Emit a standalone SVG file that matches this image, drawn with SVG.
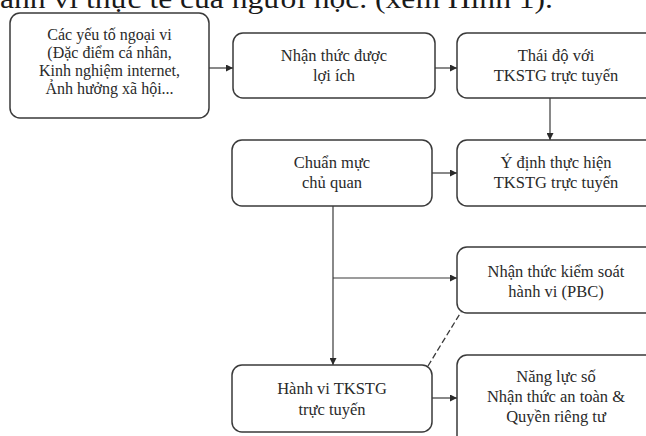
<svg xmlns="http://www.w3.org/2000/svg" width="646" height="436" viewBox="0 0 646 436">
<style>
.box{fill:#fff;stroke:#3a3a3a;stroke-width:1.5}
.t{font-family:"Liberation Serif","Times New Roman",serif;font-size:16.5px;fill:#2a2a2a;text-anchor:middle}
.t1{font-size:16px}
.c{fill:none;stroke:#3a3a3a;stroke-width:1.2}
.d{fill:none;stroke:#3a3a3a;stroke-width:1.3;stroke-dasharray:6 3}
</style>
<defs>
<marker id="ah" viewBox="0 0 10 10" refX="10" refY="5" markerWidth="7" markerHeight="7" markerUnits="userSpaceOnUse" orient="auto">
<path d="M0,0 L10,5 L0,10 z" fill="#2a2a2a"/>
</marker>
</defs>
<rect width="646" height="436" fill="#fff"/>
<text x="0" y="8" font-family="'Liberation Serif','Times New Roman',serif" font-size="27" fill="#1a1a1a" textLength="553" lengthAdjust="spacingAndGlyphs">ành vi thực tế của người học. (xem Hình 1).</text>

<g id="connectors">
<line class="c" x1="209" y1="68" x2="233" y2="68" marker-end="url(#ah)"/>
<line class="c" x1="435" y1="68" x2="457" y2="68" marker-end="url(#ah)"/>
<line class="c" x1="550" y1="98" x2="550" y2="140" marker-end="url(#ah)"/>
<line class="c" x1="432" y1="173" x2="457" y2="173" marker-end="url(#ah)"/>
<line class="c" x1="333" y1="206" x2="333" y2="365" marker-end="url(#ah)"/>
<line class="c" x1="333" y1="278" x2="457" y2="278" marker-end="url(#ah)"/>
<line class="c" x1="432" y1="398" x2="457" y2="398" marker-end="url(#ah)"/>
<line class="d" x1="428" y1="366" x2="461" y2="312"/>
</g>

<g id="n1">
<rect class="box" x="10" y="13" width="199" height="105" rx="10"/>
<text class="t t1" x="109.5" y="40">Các yếu tố ngoại vi</text>
<text class="t t1" x="109.5" y="58">(Đặc điểm cá nhân,</text>
<text class="t t1" x="109.5" y="76">Kinh nghiệm internet,</text>
<text class="t t1" x="109.5" y="94">Ảnh hưởng xã hội...</text>
</g>
<g id="n2">
<rect class="box" x="233" y="33" width="202" height="65" rx="10"/>
<text class="t" x="334" y="61">Nhận thức được</text>
<text class="t" x="334" y="81">lợi ích</text>
</g>
<g id="n3">
<rect class="box" x="457" y="33" width="205" height="65" rx="10"/>
<text class="t" x="556" y="61">Thái độ với</text>
<text class="t" x="556" y="81">TKSTG trực tuyến</text>
</g>
<g id="n4">
<rect class="box" x="232" y="140" width="200" height="66" rx="10"/>
<text class="t" x="332" y="168">Chuẩn mực</text>
<text class="t" x="332" y="188">chủ quan</text>
</g>
<g id="n5">
<rect class="box" x="457" y="140" width="205" height="66" rx="10"/>
<text class="t" x="556" y="168">Ý định thực hiện</text>
<text class="t" x="556" y="188">TKSTG trực tuyến</text>
</g>
<g id="n6">
<rect class="box" x="457" y="247" width="205" height="66" rx="10"/>
<text class="t" x="556" y="277">Nhận thức kiểm soát</text>
<text class="t" x="556" y="297">hành vi (PBC)</text>
</g>
<g id="n7">
<rect class="box" x="232" y="365" width="200" height="67" rx="10"/>
<text class="t" x="332" y="394">Hành vi TKSTG</text>
<text class="t" x="332" y="415">trực tuyến</text>
</g>
<g id="n8">
<rect class="box" x="457" y="355" width="205" height="95" rx="10"/>
<text class="t" x="556" y="382">Năng lực số</text>
<text class="t" x="556" y="402">Nhận thức an toàn &amp;</text>
<text class="t" x="556" y="422">Quyền riêng tư</text>
</g>
</svg>
